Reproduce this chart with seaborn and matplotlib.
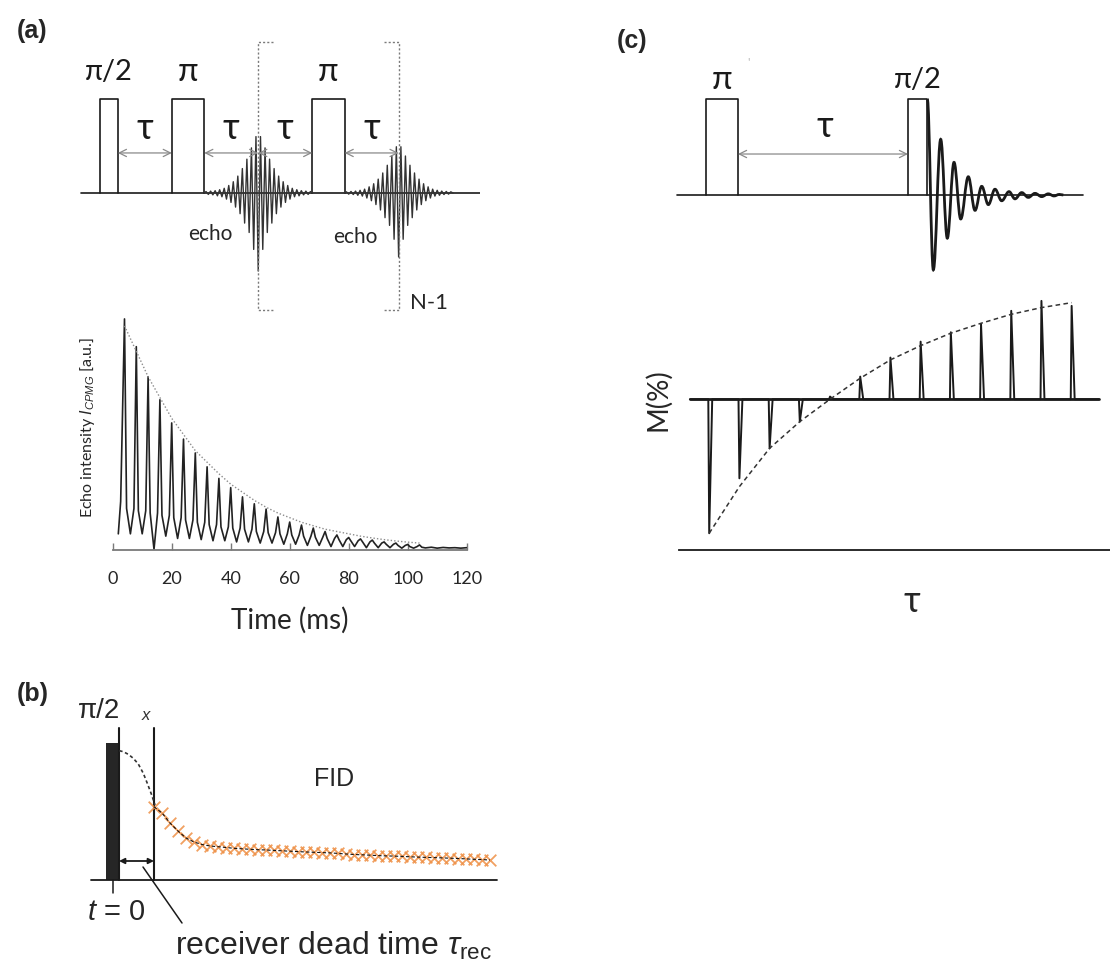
import numpy as np
import matplotlib
matplotlib.use("Agg")
import matplotlib.pyplot as plt
import seaborn as sns
from matplotlib.path import Path
from matplotlib.patches import PathPatch

sns.set_theme(style="white")
LATO = ["Lato", "DejaVu Sans"]
ARIAL = ["Liberation Sans", "DejaVu Sans"]
plt.rcParams["font.family"] = LATO
plt.rcParams["mathtext.fontset"] = "custom"
plt.rcParams["mathtext.rm"] = "Liberation Sans"
plt.rcParams["mathtext.it"] = "Liberation Sans:italic"
plt.rcParams["mathtext.bf"] = "Liberation Sans:bold"

# ------------------------------------------------------------------ data
# (a) CPMG pulse sequence: time in units of tau, amplitude in pulse heights
cpmg_pulse_labels = ["π/2", "π", "π"]
cpmg_pulse_start = [0.0, 1.33, 3.93]
cpmg_pulse_width = [0.33, 0.60, 0.60]
cpmg_echo_centre = [2.93, 5.53]
cpmg_echo_scale = [1.0, 0.82]
echo_half_period = 0.042
echo_shape_right = [-0.83, 0.60, -0.60, 0.48, -0.42, 0.36, -0.32, 0.26, -0.22,
                    0.18, -0.15, 0.12, -0.10, 0.08, -0.065, 0.05, -0.04, 0.035,
                    -0.03, 0.025, -0.02, 0.02, -0.015, 0.015, 0.0]

# (a) CPMG echo train (ms, a.u.)
echo_time = [4, 8, 12, 16, 20, 24, 28, 32, 36, 40, 44, 48, 52, 56, 60, 64, 68,
             72, 76, 80, 84, 88, 92, 96, 100, 104]
echo_peak = [100, 88, 75, 65, 55, 48, 42, 36, 31, 27, 23, 20, 17.7, 14.3, 12.1,
             10.8, 9.5, 8.0, 6.5, 5.4, 4.8, 4.3, 3.5, 3.0, 2.4, 2.2]
echo_shoulder = [18, 17, 16, 15, 14, 13, 12, 11, 10, 9.5, 9, 8, 7.5, 7, 6.5, 6,
                 5.5, 5, 4.5, 4, 3.5, 3, 2.5, 2, 1.5, 1.2]
echo_valley = [7, 7, 0.3, 6, 5, 5, 4.5, 4, 4, 3.5, 3.5, 3, 3, 2.5, 2.5, 2, 2,
               1.5, 1.5, 1.5, 1, 1, 1, 0.8, 0.8, 0.6]
echo_envelope = [97, 86, 75, 66, 57, 50, 43, 38, 33, 28.5, 25, 21.5, 18.5, 16,
                 14, 12, 10.5, 9, 8, 7, 6, 5.2, 4.5, 3.9, 3.4, 3.0]
echo_lead_t = [1.9, 2.7]
echo_lead_v = [7, 21]
echo_tail_t = [106, 108, 110, 112, 114, 116, 118, 120]
echo_tail_v = [0.9, 1.2, 0.8, 1.1, 0.9, 1.0, 0.8, 1.0]
echo_xticks = [0, 20, 40, 60, 80, 100, 120]

# (b) FID after pi/2 pulse (time units, a.u.)
fid_pulse = (-0.73, 0.57, 137.3)          # start, end, height of the pi/2 pulse
fid_dead_time = (0.57, 4.07)               # receiver dead time window
fid_extrap_t = [0.60, 1.0, 1.5, 2.0, 2.5, 3.0, 3.4, 3.84, 4.17]
fid_extrap_v = [129.3, 128.3, 125.7, 121.7, 116.0, 106.7, 96.7, 85.0, 75.0]
fid_sample_start, fid_sample_step = 4.07, 0.8
fid_values = [73.3, 67, 57, 49, 42, 38, 35.5, 34, 33.3, 32.5, 31.7, 31.2, 30.7,
              30.3, 30.0, 29.6, 29.2, 28.8, 28.4, 28.0, 27.7, 27.4, 27.1, 26.6,
              26.0, 25.5, 25.2, 24.8, 24.4, 24.1, 23.9, 23.6, 23.2, 22.9, 22.6,
              22.4, 22.1, 21.8, 21.5, 21.1, 20.7, 20.4, 20.0]

# (c) inversion recovery sequence
ir_pulse_labels = ["π", "π/2"]
ir_pulse_start = [0.0, 3.79]
ir_pulse_width = [0.60, 0.35]
ir_fid_t = [4.152, 4.265, 4.403, 4.527, 4.653, 4.779, 4.921, 5.047, 5.173, 5.297,
            5.422, 5.548, 5.685, 5.797, 5.923, 6.047, 6.173, 6.298, 6.422, 6.529,
            6.629, 6.704]
ir_fid_v = [1.0, -0.78, 0.58, -0.45, 0.34, -0.25, 0.19, -0.16, 0.09, -0.10, 0.06,
            -0.06, 0.035, -0.04, 0.025, -0.025, 0.017, -0.017, 0.012, -0.01,
            0.006, 0.0]

# (c) inversion recovery data M(%) versus tau
ir_tau = [1, 2, 3, 4, 5, 6, 7, 8, 9, 10, 11, 12, 13]
ir_signal = [-100, -59, -36.6, -16.7, 2, 16.9, 31.1, 43, 50, 56, 66, 73.4, 69.7]
ir_fit = [-100, -65.2, -36.6, -16.7, 0, 15.7, 29.4, 40.0, 49.3, 56.7, 63.4, 68.4, 72.1]

# ------------------------------------------------------------------ figure
W, H = 1110, 964
fig = plt.figure(figsize=(W / 100, H / 100), dpi=100)
fig.patch.set_facecolor("white")
INK = "#1a1a1a"


def px_axes(x0, y0, x1, y1, xlim, ylim, off=True):
    ax = fig.add_axes([x0 / W, 1 - y1 / H, (x1 - x0) / W, (y1 - y0) / H])
    ax.set_xlim(*xlim)
    ax.set_ylim(*ylim)
    ax.patch.set_alpha(0)
    if off:
        ax.set_axis_off()
    return ax


def ftext(x, y, s, **kw):
    kw.setdefault("ha", "center")
    kw.setdefault("va", "center")
    fig.text(x / W, 1 - y / H, s, **kw)


def arrow(ax, x0, x1, y, color="#8a8a8a", lw=0.9, style="<->", ms=13):
    ax.annotate("", xy=(x1, y), xytext=(x0, y),
                arrowprops=dict(arrowstyle=style, color=color, lw=lw,
                                shrinkA=0, shrinkB=0, mutation_scale=ms))


def line(ax, x, y, **kw):
    sns.lineplot(x=x, y=y, ax=ax, estimator=None, sort=False, legend=False, **kw)


# ----------------------------------------------------- panel (a) sequence
axA = px_axes(70, 30, 480, 320, (-0.556, 7.037), (-1.351, 1.734))
axA.plot([-0.35, 7.2], [0, 0], color=INK, lw=1.2)
for lab, s, w in zip(cpmg_pulse_labels, cpmg_pulse_start, cpmg_pulse_width):
    axA.plot([s, s, s + w, s + w], [0, 1, 1, 0], color=INK, lw=1.2)
    axA.text(s + w / 2, 1.29, lab, ha="center", va="center",
             fontsize=21 if "/" in lab else 24, family=LATO, color=INK)

shape = echo_shape_right[:0:-1] + echo_shape_right
ks = np.arange(len(shape)) - (len(echo_shape_right) - 1)
for c, sc in zip(cpmg_echo_centre, cpmg_echo_scale):
    line(axA, c + ks * echo_half_period, sc * np.array(shape), color="#333333", lw=1.0)

# tau arrows between events
ends = [s + w for s, w in zip(cpmg_pulse_start, cpmg_pulse_width)]
spans = [(ends[0], cpmg_pulse_start[1]), (ends[1], cpmg_echo_centre[0]),
         (cpmg_echo_centre[0], cpmg_pulse_start[2]), (ends[2], cpmg_echo_centre[1])]
for a, b in spans:
    arrow(axA, a, b, 0.426)
    axA.text((a + b) / 2, 0.69, "τ", ha="center", va="center", fontsize=26,
             family=LATO, color=INK)

# dotted brackets for the repeated block
for c, d in zip(cpmg_echo_centre, [1, -1]):
    axA.plot([c + d * 0.28, c, c, c + d * 0.28], [1.606, 1.606, -1.245, -1.245],
             color="#7a7a7a", lw=1.0, ls=(0, (1.5, 1.5)))

ftext(32, 31, "(a)", fontsize=18, fontweight="bold", family=ARIAL)
ftext(429, 303, "N-1", fontsize=16, family=LATO)
ftext(210, 234, "echo", fontsize=15, family=LATO)
ftext(355, 237, "echo", fontsize=15, family=LATO)

# ----------------------------------------------------- panel (a) echo train
axE = px_axes(112.7, 300, 466.7, 550, (0, 120), (0, 108.2), off=False)
tr_t = list(echo_lead_t)
tr_v = list(echo_lead_v)
for i, (t, p) in enumerate(zip(echo_time, echo_peak)):
    tr_t.append(t)
    tr_v.append(p)
    if i < len(echo_time) - 1:
        tr_t += [t + 0.7, t + 2.0, t + 3.2]
        tr_v += [echo_shoulder[i], echo_valley[i], echo_shoulder[i]]
    else:
        tr_t.append(t + 0.8)
        tr_v.append(echo_shoulder[i])
tr_t += echo_tail_t
tr_v += echo_tail_v
line(axE, tr_t, tr_v, color="#222222", lw=1.2)
line(axE, echo_time, echo_envelope, color="#8c8c8c", lw=1.0, linestyle=(0, (1, 1.5)))
for sp in ["top", "right", "left"]:
    axE.spines[sp].set_visible(False)
axE.spines["bottom"].set_color("#7a7a7a")
axE.spines["bottom"].set_linewidth(1.3)
axE.set_yticks([])
axE.set_xticks(echo_xticks)
axE.set_xticklabels([str(v) for v in echo_xticks], fontsize=13, family=LATO)
axE.tick_params(axis="x", direction="in", length=5, width=1, color="#7a7a7a",
                pad=15, bottom=True)
axE.set_xlabel("Time (ms)", fontsize=20, family=LATO, va="center")
axE.xaxis.set_label_coords(0.5, -0.28)
axE.set_ylabel("Echo intensity $I_{CPMG}$ [a.u.]", fontsize=11.5, family=LATO,
               va="center")
axE.yaxis.set_label_coords(-0.07, 0.492)

# ----------------------------------------------------- panel (b) FID
axB = px_axes(85, 700, 500, 940, (-2.83, 38.67), (-60, 180))
axB.plot([-2.26, 38.34], [0, 0], color=INK, lw=1.3)
p0, p1, ph = fid_pulse
axB.fill_between([p0, p1], [0, 0], [ph, ph], color="#262626", lw=0)
axB.plot([(p0 + p1) / 2, (p0 + p1) / 2], [0, -13.3], color=INK, lw=1.1)
for xv in fid_dead_time:
    axB.plot([xv, xv], [0, 151.7], color=INK, lw=1.5)
arrow(axB, fid_dead_time[0], fid_dead_time[1], 19, color=INK, lw=1.3,
      style="<|-|>", ms=8)
line(axB, fid_extrap_t, fid_extrap_v, color="#333333", lw=1.2,
     linestyle=(0, (2, 1.6)))
fid_t = fid_sample_start + fid_sample_step * np.arange(len(fid_values))
sns.scatterplot(x=fid_t, y=fid_values, ax=axB, marker="x", s=70, color="#ef8f45",
                alpha=0.85, linewidth=1.3, legend=False, zorder=3)
line(axB, fid_t, fid_values, color="#111111", lw=0.8, linestyle=(0, (3, 2)),
     zorder=4)
axB.plot([2.97, 6.87], [13, -43], color=INK, lw=1.1)

ftext(33, 694, "(b)", fontsize=18, fontweight="bold", family=ARIAL)
ftext(99, 711, "π/2", fontsize=20, family=ARIAL)
ftext(146, 716, "x", fontsize=12, family=ARIAL, style="italic", color="#333333")
ftext(334, 779, "FID", fontsize=18, family=ARIAL)
ftext(116, 912, "$t$ = 0", fontsize=21, family=ARIAL)
ftext(333, 946, r"receiver dead time $\tau_{\mathrm{rec}}$", fontsize=23,
      family=ARIAL)

# ----------------------------------------------------- panel (c) sequence
axC = px_axes(660, 30, 1100, 300, (-0.863, 7.392), (-1.094, 1.719))
axC.plot([-0.544, 7.07], [0, 0], color=INK, lw=1.2)
for lab, s, w in zip(ir_pulse_labels, ir_pulse_start, ir_pulse_width):
    axC.plot([s, s, s + w, s + w], [0, 1, 1, 0], color=INK, lw=1.2)
    axC.text(s + w / 2, 1.2, lab, ha="center", va="center",
             fontsize=21 if "/" in lab else 24, family=LATO, color=INK)
arrow(axC, ir_pulse_start[0] + ir_pulse_width[0], ir_pulse_start[1], 0.427)
axC.text(2.23, 0.71, "τ", ha="center", va="center", fontsize=26, family=LATO,
         color=INK)

# smooth FID through the read extrema (cubic Bezier segments)
verts = [(ir_fid_t[0], ir_fid_v[0])]
codes = [Path.MOVETO]
for (t0, v0), (t1, v1) in zip(zip(ir_fid_t[:-1], ir_fid_v[:-1]),
                              zip(ir_fid_t[1:], ir_fid_v[1:])):
    dt = t1 - t0
    verts += [(t0 + 0.38 * dt, v0), (t1 - 0.38 * dt, v1), (t1, v1)]
    codes += [Path.CURVE4] * 3
axC.add_patch(PathPatch(Path(verts, codes), fc="none", ec=INK, lw=2.0))

ftext(632, 41, "(c)", fontsize=18, fontweight="bold", family=ARIAL)
ftext(748, 64, "'", fontsize=9, color="#bbbbbb", family=LATO)

# ----------------------------------------------------- panel (c) recovery
axR = px_axes(679, 280, 1110, 550, (0, 14.27), (-112.5, 89), off=False)
sx, sy = [0.36], [0.0]
for t, v in zip(ir_tau, ir_signal):
    sx += [t - 0.03, t, t + 0.1]
    sy += [0.0, v, 0.0]
sx.append(13.9)
sy.append(0.0)
line(axR, sx, sy, color=INK, lw=1.4)
axR.plot([0.36, 13.9], [0, 0], color=INK, lw=2.0)
line(axR, ir_tau, ir_fit, color="#333333", lw=1.1, linestyle=(0, (3, 2.2)))
for sp in ["top", "right", "left"]:
    axR.spines[sp].set_visible(False)
axR.spines["bottom"].set_color(INK)
axR.spines["bottom"].set_linewidth(1.3)
axR.set_xticks([])
axR.set_yticks([])
axR.set_xlabel("τ", fontsize=26, family=LATO, va="center")
axR.xaxis.set_label_coords(0.54, -0.19)
axR.set_ylabel("M(%)", fontsize=20, family=LATO, va="center")
axR.yaxis.set_label_coords(-0.049, 0.556)

fig.savefig("out.png", dpi=100, facecolor="white")
